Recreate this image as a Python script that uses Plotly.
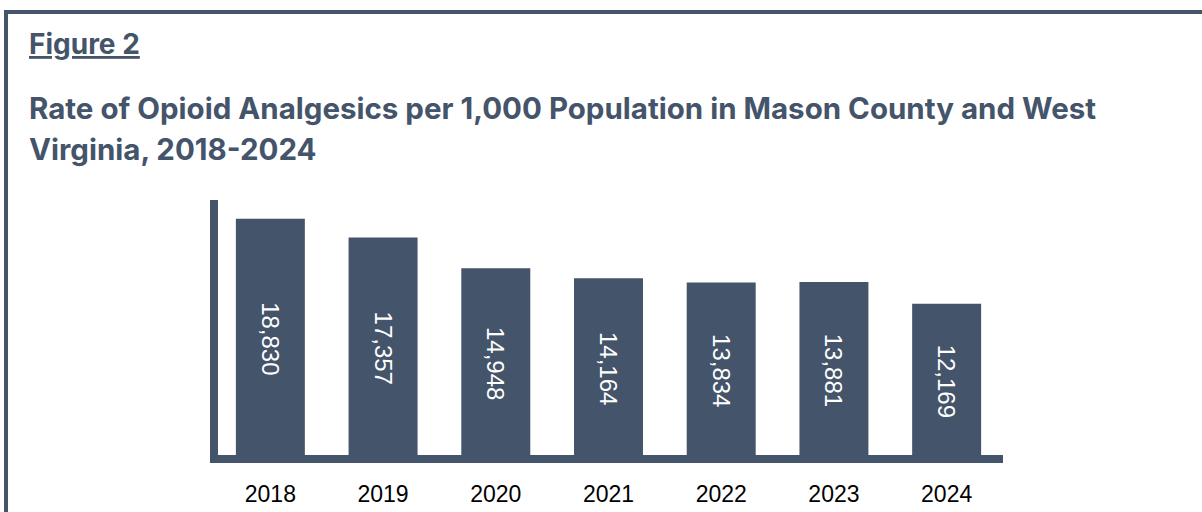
import plotly.graph_objects as go

years = ["2018", "2019", "2020", "2021", "2022", "2023", "2024"]
rates = [18830, 17357, 14948, 14164, 13834, 13881, 12169]
rate_labels = ["18,830", "17,357", "14,948", "14,164", "13,834", "13,881", "12,169"]

fig_label = "Figure 2"
title_line1 = "Rate of Opioid Analgesics per 1,000 Population in Mason County and West"
title_line2 = "Virginia, 2018-2024"

C = "#44546A"
FW, FH = 1202, 512

# plot-area geometry in pixels
L, R, T, B = 214, 1003, 195, 459
W, H = R - L, B - T


def px(x):
    return (x - L) / W


def py(y):
    return (B - y) / H


fig = go.Figure(
    go.Bar(
        x=years,
        y=rates,
        marker=dict(color=C, line=dict(width=0)),
        text=rate_labels,
        textposition="inside",
        insidetextanchor="middle",
        textangle=90,
        textfont=dict(family="Liberation Sans, Arial", size=24, color="white"),
        hoverinfo="skip",
    )
)

shapes = [
    # frame
    dict(type="rect", xref="paper", yref="paper", x0=px(4), x1=px(1210), y0=py(14), y1=py(10),
         fillcolor=C, line=dict(width=0), layer="above"),
    dict(type="rect", xref="paper", yref="paper", x0=px(4), x1=px(8), y0=py(530), y1=py(10),
         fillcolor=C, line=dict(width=0), layer="above"),
    # axes
    dict(type="rect", xref="paper", yref="paper", x0=px(210), x1=px(218), y0=py(463), y1=py(200),
         fillcolor=C, line=dict(width=0), layer="above"),
    dict(type="rect", xref="paper", yref="paper", x0=px(210), x1=px(1003), y0=py(463), y1=py(455),
         fillcolor=C, line=dict(width=0), layer="above"),
]

TF = "Inter"
annotations = [
    dict(text=f"<b>{fig_label}</b>", xref="paper", yref="paper", x=px(27), y=py(44),
         xanchor="left", yanchor="middle", showarrow=False,
         font=dict(family=TF, size=28, color=C, lineposition="under")),
    dict(text=f"<b>{title_line1}</b>", xref="paper", yref="paper", x=px(27), y=py(108),
         xanchor="left", yanchor="middle", showarrow=False,
         font=dict(family=TF, size=29.5, color=C)),
    dict(text=f"<b>{title_line2}</b>", xref="paper", yref="paper", x=px(27), y=py(149),
         xanchor="left", yanchor="middle", showarrow=False,
         font=dict(family=TF, size=29.5, color=C)),
]

fig.update_layout(
    width=FW,
    height=FH,
    margin=dict(l=L, r=FW - R, t=T, b=FH - B, pad=0, autoexpand=False),
    paper_bgcolor="white",
    plot_bgcolor="white",
    showlegend=False,
    bargap=0.388,
    shapes=shapes,
    annotations=annotations,
    xaxis=dict(
        type="category",
        range=[-0.5, 6.5],
        showline=False,
        showgrid=False,
        zeroline=False,
        automargin=False,
        ticks="",
        ticklabelstandoff=19,
        tickfont=dict(family="Liberation Sans, Arial", size=23, color="#000000"),
    ),
    yaxis=dict(
        range=[0, 20690],
        showline=False,
        showgrid=False,
        zeroline=False,
        automargin=False,
        showticklabels=False,
        ticks="",
    ),
)

fig.write_html(
    "out.html",
    config={"displayModeBar": False},
    post_script=(
        "document.documentElement.style.margin='0px';"
        "document.documentElement.style.overflow='hidden';"
        "document.body.style.margin='0px';"
        "document.body.style.overflow='hidden';"
    ),
)
